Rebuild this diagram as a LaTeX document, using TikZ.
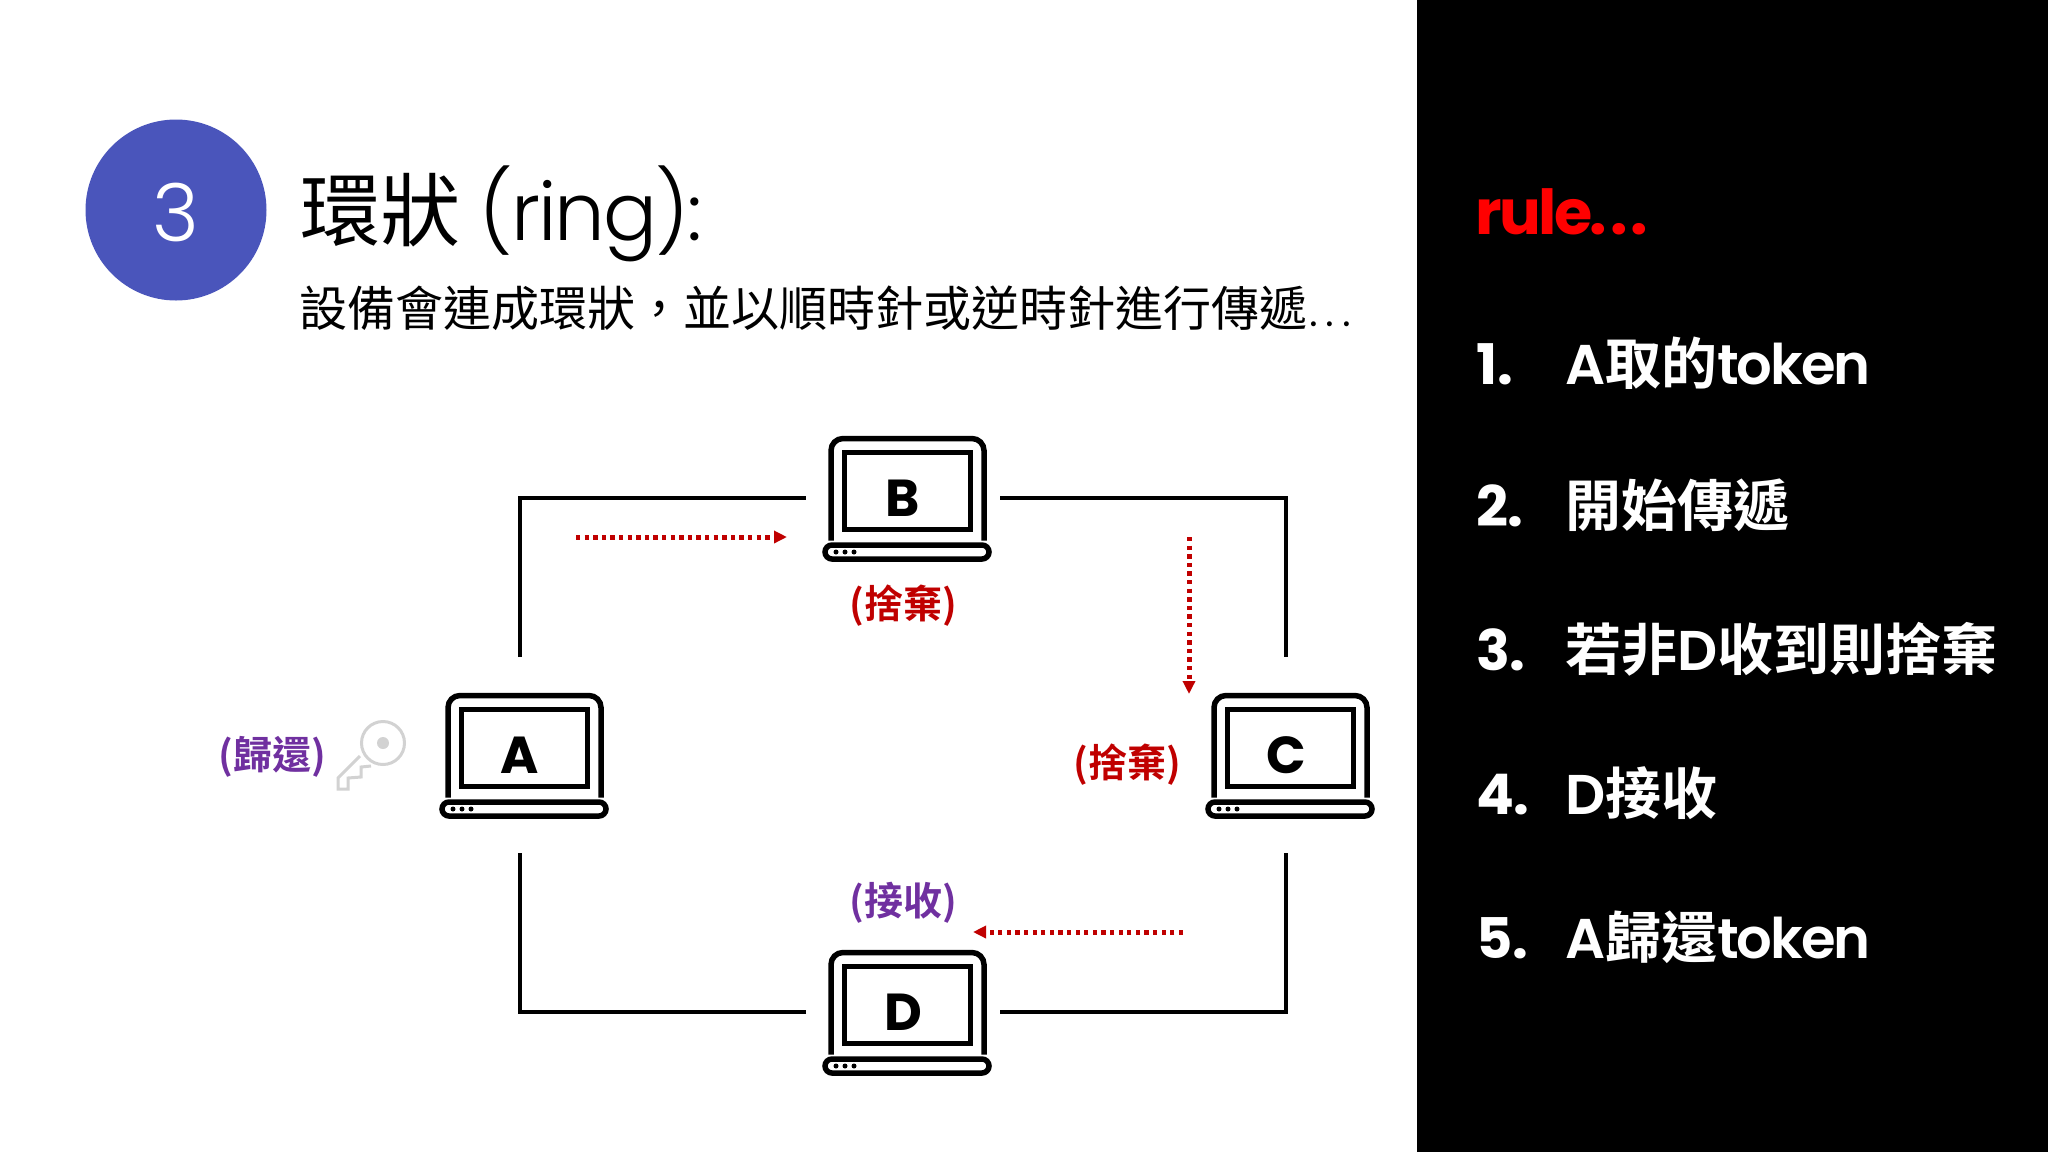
\documentclass[tikz,border=0pt]{standalone}
\usepackage{fontspec}
\usetikzlibrary{arrows.meta}
\setmainfont{Poppins}
\newfontfamily\cjk{Noto Sans CJK TC}
\newfontfamily\cjkb{Noto Sans CJK TC Bold}
\newfontfamily\latl[LetterSpace=-2.5]{Poppins Light}
\newfontfamily\latlw{Poppins Light}
\newfontfamily\latb[LetterSpace=-3.5]{Poppins SemiBold}
\newfontfamily\latbw{Poppins Bold}
\newfontfamily\latbb[LetterSpace=-4]{Poppins Bold}
\newcommand{\fs}[1]{\fontsize{#1}{#1}\selectfont}
\newcommand{\gapdots}[1]{.\hspace{#1}.\hspace{#1}.}
\definecolor{disc}{HTML}{4A55BB}
\definecolor{darkred}{HTML}{C00000}
\definecolor{plum}{HTML}{7030A0}
\definecolor{keygray}{HTML}{D2D2D2}
\tikzset{
  slab/.style={anchor=base west,inner sep=0pt,outer sep=0pt},
  machine/.style={minimum width=194pt,minimum height=196pt,inner sep=0pt,outer sep=0pt,font=\latbw\fs{52}},
  link/.style={line width=4.5pt,black},
  flow/.style={line width=5pt,darkred,dash pattern=on 4.3pt off 4.3pt,-{Triangle[length=13pt,width=12pt]}},
  note/.style={inner sep=0pt,font=\cjkb\fs{39}},
  rulehead/.style={slab,text=red,font=\latbb\fs{62}},
  ruleitem/.style={slab,text=white,font=\cjkb\fs{56}},
  laptop/.pic={
    \draw[line width=5.5pt,rounded corners=12pt] (-72,42.5) -- (-72,-59.5) -- (81,-59.5) -- (81,42.5);
    \draw[line width=5.5pt] (-58.5,-45.5) rectangle (67.5,31.5);
    \draw[line width=5.5pt,rounded corners=7pt,fill=white] (-78,47) rectangle (86,61);
    \foreach \dx in {-67,-58,-49}{\fill (\dx,54) circle (2.5pt);}
  }
}
\begin{document}
\begin{tikzpicture}[x=1pt,y=-1pt]
\useasboundingbox (0,0) rectangle (2048,1152);
\fill[white] (0,0) rectangle (2048,1152);
\fill[black] (1417,0) rectangle (2048,1152);

% heading
\node[circle,fill=disc,minimum size=181pt,inner sep=0pt] (num) at (176,210) {};
\node[text=white,inner sep=0pt,font=\latlw\fs{80}] (numt) at (176,212) {3};
\node[slab,font=\fs{80}] (title) at (300,240) {\cjk 環狀\latl\ (ring):};
\node[slab,font=\fs{48}] (sub) at (299,326) {\cjk 設備會連成環狀，並以順時針或逆時針進行傳遞\latlw\hspace{2pt}\gapdots{8pt}};

% machines
\node[machine] (a) at (520,755) {A};
\node[machine] (b) at (903,498) {B};
\node[machine] (c) at (1286,755) {C};
\node[machine] (d) at (903,1012) {D};
\pic at (a) {laptop};
\pic at (b) {laptop};
\pic at (c) {laptop};
\pic at (d) {laptop};

% ring
\draw[link] (a.north) |- (b.west);
\draw[link] (b.east) -| (c.north);
\draw[link] (c.south) |- (d.east);
\draw[link] (d.west) -| (a.south);

% token flow
\coordinate (f1s) at (576,537); \coordinate (f1e) at (787,537);
\coordinate (f2s) at (1189,537); \coordinate (f2e) at (1189,694);
\coordinate (f3s) at (1183,932); \coordinate (f3e) at (973,932);
\draw[flow] (f1s) -- (f1e);
\draw[flow] (f2s) -- (f2e);
\draw[flow] (f3s) -- (f3e);

% notes
\node[note,text=darkred] (nb) at (903,606) {(捨棄)};
\node[note,text=darkred] (nc) at (1127,765) {(捨棄)};
\node[note,text=plum] (nd) at (903,903) {(接收)};
\node[note,text=plum] (na) at (272,757) {(歸還)};

% key
\draw[keygray,line width=3pt] (383,743) circle (21.5pt);
\fill[keygray] (383,743) circle (6pt);
\draw[keygray,line width=3pt,line join=miter] (360,756) -- (338,778) -- (338,789) -- (348,789) -- (348,778) -- (361,777) -- (361,767) -- (371,766);

% rules
\node[rulehead] (rh) at (1475,234) {rule\gapdots{3pt}};
\node[ruleitem] (r1n) at (1476,384) {\latbw 1.};
\node[ruleitem] (r1) at (1565,384) {\latb A\cjkb 取的\latb token};
\node[ruleitem] (r2n) at (1476,526) {\latbw 2.};
\node[ruleitem] (r2) at (1565,526) {\cjkb 開始傳遞};
\node[ruleitem] (r3n) at (1476,670) {\latbw 3.};
\node[ruleitem] (r3) at (1565,670) {\cjkb 若非\latb D\cjkb 收到則捨棄};
\node[ruleitem] (r4n) at (1476,814) {\latbw 4.};
\node[ruleitem] (r4) at (1565,814) {\latb D\cjkb 接收};
\node[ruleitem] (r5n) at (1476,958) {\latbw 5.};
\node[ruleitem] (r5) at (1565,958) {\latb A\cjkb 歸還\latb token};
\end{tikzpicture}
\end{document}
